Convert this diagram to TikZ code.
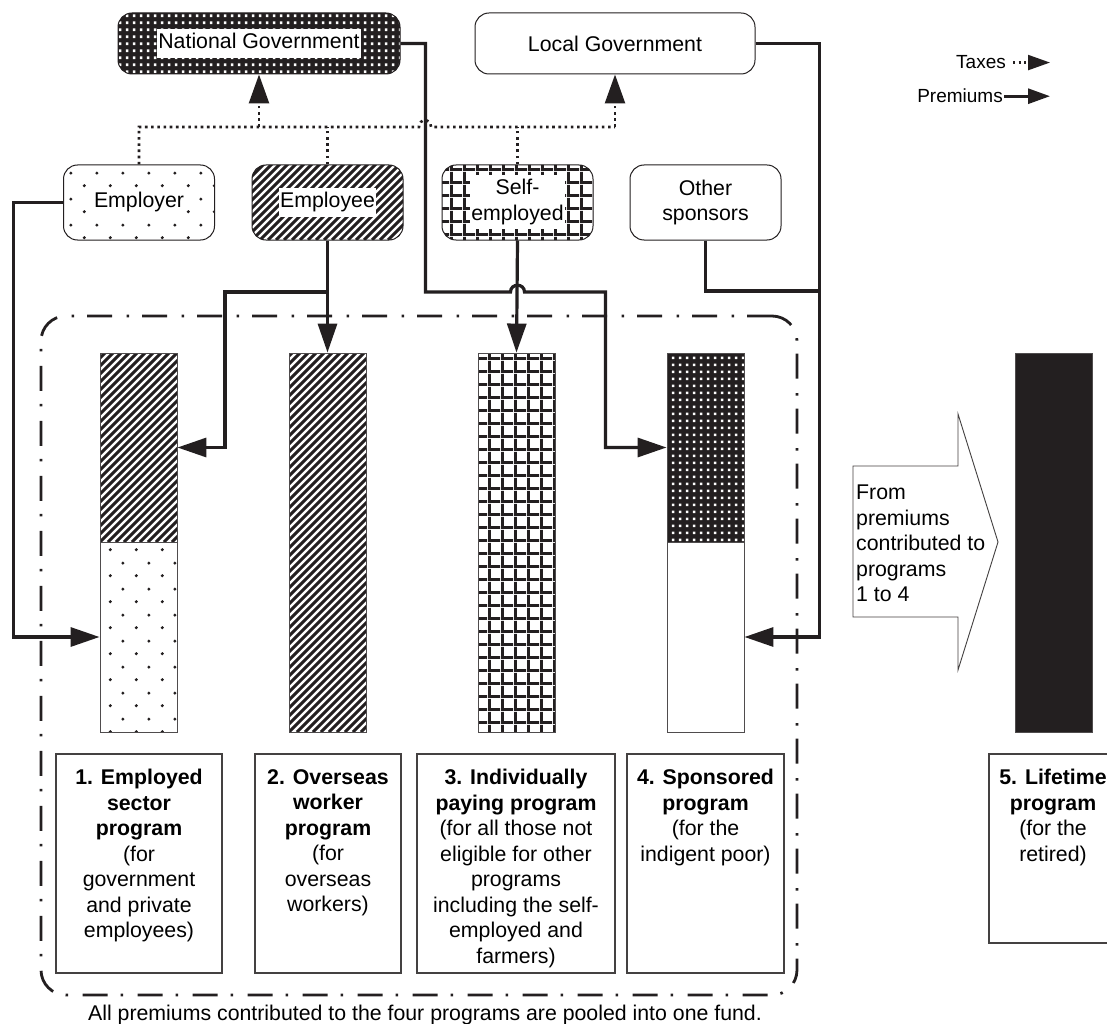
\documentclass[tikz,border=0pt]{standalone}
\usepackage{fontspec}
\setmainfont{Liberation Sans}
\usetikzlibrary{patterns.meta,arrows.meta}
\definecolor{ink}{RGB}{35,31,32}
\newcommand\bodyfont{\fontsize{21.3pt}{25.5pt}\selectfont}
\newcommand\legfont{\fontsize{19pt}{23pt}\selectfont}
\newcommand\wbg[1]{{\setlength{\fboxsep}{1.5pt}\colorbox{white}{\strut#1}}}

\tikzdeclarepattern{name=whitedots, type=uncolored,
  bottom left={(0pt,0pt)}, top right={(6.5pt,6.5pt)}, tile size={(6.5pt,6.5pt)},
  code={\fill (1.9pt,1.9pt) rectangle (4.8pt,4.8pt);}}
\tikzdeclarepattern{name=sparsedots, type=uncolored,
  bottom left={(0pt,0pt)}, top right={(26pt,26pt)}, tile size={(26pt,26pt)},
  code={\fill (6.5pt,6.5pt) circle (1.7pt); \fill (19.5pt,19.5pt) circle (1.7pt);}}
\tikzdeclarepattern{name=thickgrid, type=uncolored,
  bottom left={(0pt,0pt)}, top right={(12.5pt,12.5pt)}, tile size={(12.5pt,12.5pt)},
  code={\fill (0pt,0pt) rectangle (12.5pt,3pt); \fill (0pt,0pt) rectangle (3pt,12.5pt);}}

\tikzset{
  srcbox/.style={draw=ink, line width=1pt, rounded corners=14pt, minimum width=151pt,
    minimum height=75pt, inner sep=2pt, align=center},
  govbox/.style={srcbox, minimum height=61pt},
  barbox/.style={draw=ink!80, line width=0.9pt, minimum width=77pt, inner sep=0pt},
  progbox/.style={draw=ink!85, line width=1.1pt, inner sep=0pt},
  progtext/.style={anchor=north, align=center, inner sep=0pt},
  prem/.style={draw=ink, line width=3.2pt, -{Triangle[length=29pt,width=19pt]}},
  premline/.style={draw=ink, line width=3.2pt},
  taxline/.style={draw=ink, line width=2.6pt, dash pattern=on 2.6pt off 3.6pt},
  tax/.style={taxline, -{Triangle[length=29pt,width=20pt]}},
  poolframe/.style={draw=ink, line width=2.8pt, rounded corners=25pt,
    dash pattern=on 25pt off 13pt on 2.5pt off 14.5pt,
    minimum width=756pt, minimum height=679pt, inner sep=0pt},
  blackfill/.style={preaction={fill=ink}, pattern=whitedots, pattern color=white},
  stripes/.style={path picture={
    \foreach \k in {-52,...,22} {
      \draw[ink, line width=3pt, solid]
        ([xshift=\k*8pt]path picture bounding box.south west) -- ++(420pt,420pt);
    }}}
}

\begin{document}
\begin{tikzpicture}[x=1pt,y=-1pt,font=\bodyfont]
\fill[white] (0,0) rectangle (1107,1024);
\useasboundingbox (0,0) rectangle (1107,1024);
\clip (0,0) rectangle (1107,1024);

% pooled frame
\node[poolframe] (pool) at (419,655.5) {};
\node[anchor=base, inner sep=0pt] (caption) at (425,1020)
  {All premiums contributed to the four programs are pooled into one fund.};

% governments
\node[govbox, blackfill, minimum width=282pt] (natgov) at (259,43.5) {\wbg{National Government}};
\node[govbox, fill=white, minimum width=280pt] (locgov) at (615,43.5) {Local Government};

% contributors
\node[srcbox, pattern=sparsedots, pattern color=ink] (employer) at (139,202.5) {\wbg{Employer}};
\node[srcbox, stripes] (employee) at (327.5,202.5) {\wbg{Employee}};
\node[srcbox, pattern=thickgrid, pattern color=ink] (selfemp) at (517.5,202.5)
  {{\setlength{\fboxsep}{1.5pt}\colorbox{white}{\begin{tabular}{@{}c@{}}Self-\\employed\end{tabular}}}};
\node[srcbox, fill=white] (others) at (705.5,202.5) {Other\\sponsors};

% bars
\node[barbox, minimum height=189pt, stripes] (bar1top) at (138.5,447.5) {};
\node[barbox, minimum height=190pt, pattern=sparsedots, pattern color=ink] (bar1bot) at (138.5,637) {};
\node[barbox, minimum height=379pt, stripes] (bar2) at (327.5,542.5) {};
\node[barbox, minimum height=379pt, pattern=thickgrid, pattern color=ink] (bar3) at (516.5,542.5) {};
\node[barbox, minimum height=189pt, blackfill] (bar4top) at (705.5,447.5) {};
\node[barbox, minimum height=190pt, fill=white] (bar4bot) at (705.5,637) {};
\node[barbox, minimum height=379pt, fill=ink] (lifebar) at (1053.5,542.5) {};

% program boxes
\node[progbox, minimum width=166pt, minimum height=219pt] (prog1) at (139,863.5) {};
\node[progbox, minimum width=146pt, minimum height=219pt] (prog2) at (328,863.5) {};
\node[progbox, minimum width=198pt, minimum height=219pt] (prog3) at (516,863.5) {};
\node[progbox, minimum width=157pt, minimum height=219pt] (prog4) at (705.5,863.5) {};
\node[progbox, minimum width=128pt, minimum height=189pt] (prog5) at (1053,848.5) {};

\node[progtext, yshift=-15.5pt] (prog1t) at (prog1.north)
  {\textbf{1. Employed}\\\textbf{sector}\\\textbf{program}\\(for\\government\\and private\\employees)};
\node[progtext, yshift=-15.5pt] (prog2t) at (prog2.north)
  {\textbf{2. Overseas}\\\textbf{worker}\\\textbf{program}\\(for\\overseas\\workers)};
\node[progtext, yshift=-15.5pt] (prog3t) at (prog3.north)
  {\textbf{3. Individually}\\\textbf{paying program}\\(for all those not\\eligible for other\\programs\\including the self-\\employed and\\farmers)};
\node[progtext, yshift=-15.5pt] (prog4t) at (prog4.north)
  {\textbf{4. Sponsored}\\\textbf{program}\\(for the\\indigent poor)};
\node[progtext, yshift=-15.5pt] (prog5t) at (prog5.north)
  {\textbf{5. Lifetime}\\\textbf{program}\\(for the\\retired)};

% block arrow to lifetime program
\draw[draw=ink!85, fill=white, line width=0.9pt] (853,466) -- (958,466) -- (958,414) -- (998,542)
  -- (958,670) -- (958,617) -- (853,617) -- cycle;
\node[anchor=north west, align=left, inner sep=0pt] (fromtxt) at (856,485)
  {From\\premiums\\contributed to\\programs\\1 to 4};

% taxes
\coordinate (tr) at (615,127);
\draw[taxline] (employer.north) |- (419,127) .. controls (419,118) and (431,118) .. (431,127) -- (tr);
\draw[taxline] (employee.north) -- (employee.north |- tr);
\draw[taxline] (selfemp.north) -- (selfemp.north |- tr);
\draw[tax] (natgov.south |- tr) -- (natgov.south);
\draw[tax] (tr) -- (locgov.south);

% premiums
\coordinate (j1) at (327.5,292);
\coordinate (j2) at (819,291);
\draw[prem] (employer.west) -- ++(-49.5,0) |- (bar1bot.west);
\draw[prem] (employee.south) -- (bar2.north);
\draw[prem] (j1) -- ++(-102.5,0) |- (bar1top.east);
\draw[prem] (selfemp.south) -- (bar3.north);
\draw[prem] (natgov.east) -- ++(25,0) |- (510.5,292) .. controls (510.5,283) and (524.5,283) .. (524.5,292)
  -- ++(81,0) |- (bar4top.west);
\draw[prem] (locgov.east) -- ++(64,0) |- (bar4bot.east);
\draw[premline] (others.south) |- (j2);

% legend
\node[anchor=base east, inner sep=0pt, font=\legfont] (taxlbl) at (1006,69) {Taxes};
\node[anchor=base east, inner sep=0pt, font=\legfont] (premlbl) at (1003,103) {Premiums};
\coordinate (taxtip) at (1050,62);
\coordinate (premtip) at (1050,96);
\draw[taxline, line width=2.2pt, dash pattern=on 2.2pt off 3.3pt, -{Triangle[length=22pt,width=15pt]}]
  ([xshift=7pt]taxlbl.east) -- (taxtip |- taxlbl.east);
\draw[premline, line width=2.8pt, -{Triangle[length=22pt,width=15pt]}]
  ([xshift=1pt]premlbl.east) -- (premtip |- premlbl.east);
\end{tikzpicture}
\end{document}
